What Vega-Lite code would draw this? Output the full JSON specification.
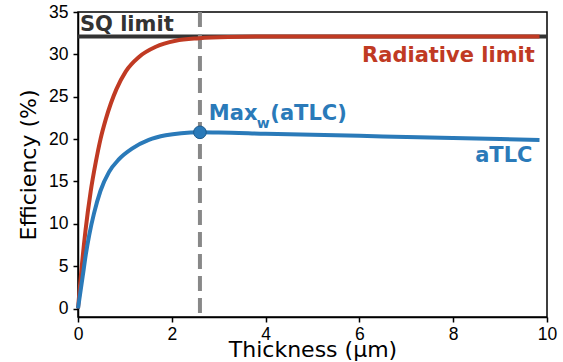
{
  "$schema": "https://vega.github.io/schema/vega-lite/v6.json",
  "width": 469,
  "height": 305,
  "autosize": "none",
  "padding": {"left": 78, "top": 12, "right": 16, "bottom": 45},
  "background": "white",
  "config": {
    "view": {"stroke": "black", "strokeWidth": 1.5},
    "axis": {
      "grid": false,
      "domainColor": "black",
      "domainWidth": 1.5,
      "tickColor": "black",
      "tickWidth": 1.5,
      "tickSize": 5,
      "labelFlush": false,
      "labelFont": "Liberation Sans",
      "labelFontSize": 17.5,
      "labelColor": "black",
      "titleFont": "DejaVu Sans",
      "titleFontSize": 22,
      "titleFontWeight": "normal",
      "titleColor": "black"
    }
  },
  "datasets": {
    "radiative": [
      {"x": 0, "y": 0}, {"x": 0.06, "y": 3.8}, {"x": 0.16, "y": 9.2}, {"x": 0.27, "y": 13.8},
      {"x": 0.38, "y": 17.3}, {"x": 0.48, "y": 20.0}, {"x": 0.59, "y": 22.3}, {"x": 0.7, "y": 24.2},
      {"x": 0.82, "y": 25.9}, {"x": 1.02, "y": 28.0}, {"x": 1.3, "y": 29.7}, {"x": 1.66, "y": 30.9},
      {"x": 2.08, "y": 31.6}, {"x": 2.58, "y": 31.9}, {"x": 3.2, "y": 32.05}, {"x": 4, "y": 32.1},
      {"x": 6, "y": 32.1}, {"x": 8, "y": 32.1}, {"x": 9.84, "y": 32.1}
    ],
    "atlc": [
      {"x": 0, "y": 0}, {"x": 0.1, "y": 3.8}, {"x": 0.17, "y": 6.5}, {"x": 0.24, "y": 8.7},
      {"x": 0.34, "y": 11.2}, {"x": 0.48, "y": 13.9}, {"x": 0.66, "y": 16.1}, {"x": 0.87, "y": 17.6},
      {"x": 1.16, "y": 18.9}, {"x": 1.51, "y": 19.9}, {"x": 1.87, "y": 20.45}, {"x": 2.2, "y": 20.7},
      {"x": 2.6, "y": 20.8}, {"x": 3, "y": 20.78}, {"x": 4, "y": 20.63}, {"x": 5, "y": 20.5},
      {"x": 6, "y": 20.38}, {"x": 7, "y": 20.25}, {"x": 8, "y": 20.13}, {"x": 9, "y": 20.0}, {"x": 9.84, "y": 19.9}
    ],
    "sq": [{"x": 0, "y": 32.1}, {"x": 10, "y": 32.1}],
    "maxpt": [{"x": 2.6, "y": 20.8}],
    "vline": [{"x": 2.6}],
    "labels": [
      {"x": 0.04, "y": 32.7, "text": "SQ limit", "series": "sq"},
      {"x": 9.74, "y": 29.1, "text": "Radiative limit", "series": "rad"},
      {"x": 9.69, "y": 17.3, "text": "aTLC", "series": "atlc"}
    ]
  },
  "layer": [
    {
      "data": {"name": "sq"},
      "mark": {"type": "line", "color": "#333333", "strokeWidth": 4, "clip": true},
      "encoding": {
        "x": {"field": "x", "type": "quantitative", "scale": {"domain": [0, 10]},
              "axis": {"values": [0, 2, 4, 6, 8, 10], "title": "Thickness (µm)", "labelPadding": 3, "titlePadding": -3}},
        "y": {"field": "y", "type": "quantitative", "scale": {"domain": [-1, 35], "nice": false},
              "axis": {"values": [0, 5, 10, 15, 20, 25, 30, 35], "title": "Efficiency (%)", "labelPadding": 5, "titlePadding": 8}}
      }
    },
    {
      "data": {"name": "vline"},
      "mark": {"type": "rule", "color": "#888888", "strokeWidth": 4, "strokeDash": [15, 7]},
      "encoding": {"x": {"field": "x", "type": "quantitative"}}
    },
    {
      "data": {"name": "radiative"},
      "mark": {"type": "line", "color": "#c03a23", "strokeWidth": 4, "interpolate": "monotone"},
      "encoding": {"x": {"field": "x", "type": "quantitative"}, "y": {"field": "y", "type": "quantitative"}}
    },
    {
      "data": {"name": "atlc"},
      "mark": {"type": "line", "color": "#2a7ab9", "strokeWidth": 4, "interpolate": "monotone"},
      "encoding": {"x": {"field": "x", "type": "quantitative"}, "y": {"field": "y", "type": "quantitative"}}
    },
    {
      "data": {"name": "maxpt"},
      "mark": {"type": "point", "shape": "circle", "filled": true, "size": 160, "fill": "#2a7ab9", "stroke": "#1c5a8c", "strokeWidth": 1, "opacity": 1},
      "encoding": {"x": {"field": "x", "type": "quantitative"}, "y": {"field": "y", "type": "quantitative"}}
    },
    {
      "data": {"name": "labels"},
      "transform": [{"filter": "datum.series == 'sq'"}],
      "mark": {"type": "text", "font": "DejaVu Sans", "fontWeight": "bold", "fontSize": 21, "color": "#333333", "align": "left", "baseline": "alphabetic"},
      "encoding": {"x": {"field": "x", "type": "quantitative"}, "y": {"field": "y", "type": "quantitative"}, "text": {"field": "text"}}
    },
    {
      "data": {"name": "labels"},
      "transform": [{"filter": "datum.series == 'rad'"}],
      "mark": {"type": "text", "font": "DejaVu Sans", "fontWeight": "bold", "fontSize": 21, "color": "#c03a23", "align": "right", "baseline": "alphabetic"},
      "encoding": {"x": {"field": "x", "type": "quantitative"}, "y": {"field": "y", "type": "quantitative"}, "text": {"field": "text"}}
    },
    {
      "data": {"name": "labels"},
      "transform": [{"filter": "datum.series == 'atlc'"}],
      "mark": {"type": "text", "font": "DejaVu Sans", "fontWeight": "bold", "fontSize": 21, "color": "#2a7ab9", "align": "right", "baseline": "alphabetic"},
      "encoding": {"x": {"field": "x", "type": "quantitative"}, "y": {"field": "y", "type": "quantitative"}, "text": {"field": "text"}}
    },
    {
      "data": {"values": [{"x": 2.79, "y": 22.2, "text": "Max"}, {"x": 4.1, "y": 22.2, "text": "(aTLC)"}]},
      "mark": {"type": "text", "font": "DejaVu Sans", "fontWeight": "bold", "fontSize": 21, "color": "#2a7ab9", "align": "left", "baseline": "alphabetic"},
      "encoding": {"x": {"field": "x", "type": "quantitative"}, "y": {"field": "y", "type": "quantitative"}, "text": {"field": "text"}}
    },
    {
      "data": {"values": [{"x": 3.81, "y": 21.3, "text": "w"}]},
      "mark": {"type": "text", "font": "DejaVu Sans", "fontWeight": "bold", "fontSize": 14, "color": "#2a7ab9", "align": "left", "baseline": "alphabetic"},
      "encoding": {"x": {"field": "x", "type": "quantitative"}, "y": {"field": "y", "type": "quantitative"}, "text": {"field": "text"}}
    }
  ]
}
